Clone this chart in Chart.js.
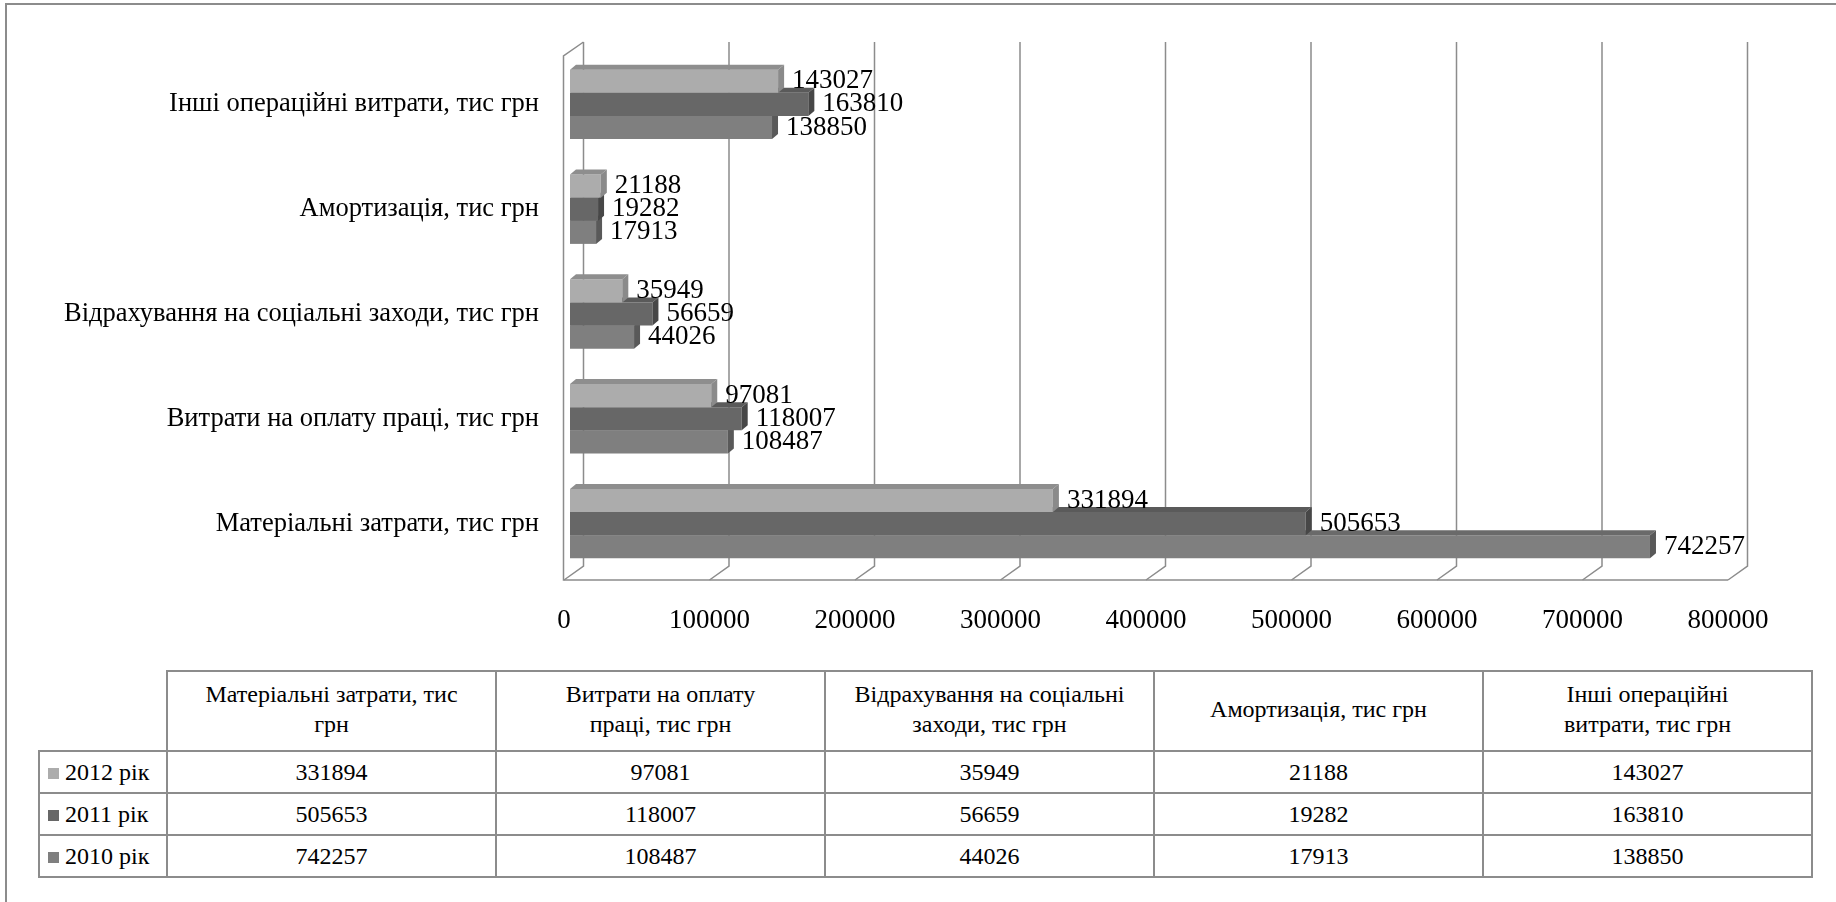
<!DOCTYPE html>
<html>
<head>
<meta charset="utf-8">
<script src="https://cdn.jsdelivr.net/npm/chart.js@4.4.0/dist/chart.umd.min.js"></script>
<style>
  body { margin: 0; background: #fff; width: 1836px; height: 902px; overflow: hidden; position: relative;
         font-family: "Liberation Serif", serif; }
  #frame { position: absolute; left: 5px; top: 3px; width: 1900px; height: 1000px; border: 2px solid #8c8c8c; }
  #wrap { position: absolute; left: 0; top: 0; width: 1836px; height: 650px; }
  #tbl { position: absolute; left: 38px; top: 670px; border-collapse: collapse; table-layout: fixed; color: #000; }
  #tbl td { border: 2px solid #8c8c8c; text-align: center; padding: 0; white-space: pre-line; line-height: 28px;
            font-family: "Liberation Serif", serif; font-size: 24px; }
  #tbl tr.head td { line-height: 30px; padding-bottom: 4px; }
  #tbl td.blank { border-top: none; border-left: none; }
  #tbl td.leg { text-align: left; padding-left: 8px; white-space: nowrap; }
  #tbl .sw { display: inline-block; width: 11px; height: 11px; margin-right: 6px; vertical-align: 1px; }
</style>
</head>
<body>
<div id="frame"></div>
<div id="wrap"><canvas id="chart" width="1836" height="650"></canvas></div>
<table id="tbl"></table>
<script>
// Categories (order of the data table; the chart shows them bottom to top)
const categories = [
    'Матеріальні затрати, тис грн',
    'Витрати на оплату праці, тис грн',
    'Відрахування на соціальні заходи, тис грн',
    'Амортизація, тис грн',
    'Інші операційні витрати, тис грн'
];
const headerLabels = [
    'Матеріальні затрати, тис\nгрн',
    'Витрати на оплату\nпраці, тис грн',
    'Відрахування на соціальні\nзаходи, тис грн',
    'Амортизація, тис грн',
    'Інші операційні\nвитрати, тис грн'
];
const seriesNames = ['2012 рік', '2011 рік', '2010 рік'];
const values2012 = [331894, 97081, 35949, 21188, 143027];
const values2011 = [505653, 118007, 56659, 19282, 163810];
const values2010 = [742257, 108487, 44026, 17913, 138850];
const xTicks = [0, 100000, 200000, 300000, 400000, 500000, 600000, 700000, 800000];

const frontColors = ['#acacac', '#676767', '#7f7f7f'];
const topColors = ['#8e8e8e', '#5a5a5a', '#6a6a6a'];
const sideColors = ['#8a8a8a', '#474747', '#595959'];
const font = '"Liberation Serif", serif';

// Back wall, floor and gridlines drawn in a fake 3D look
const wallPlugin = {
    id: 'walls',
    beforeDatasetsDraw(chart) {
        const {ctx, chartArea: a, scales: {x}} = chart;
        const top = a.top - 10, back = a.bottom - 10, front = a.bottom + 4;
        ctx.save();
        ctx.strokeStyle = '#8c8c8c';
        ctx.lineWidth = 1.5;
        xTicks.forEach(v => {
            const px = x.getPixelForValue(v);
            ctx.beginPath();
            ctx.moveTo(px + 13.5, top);
            ctx.lineTo(px + 13.5, back);
            ctx.lineTo(px - 6, front);
            ctx.stroke();
        });
        const x0 = x.getPixelForValue(0);
        const x1 = x.getPixelForValue(800000);
        ctx.beginPath();
        ctx.moveTo(x1 - 6, front);
        ctx.lineTo(x0 - 6.5, front);
        ctx.lineTo(x0 - 6.5, top + 14);
        ctx.lineTo(x0 + 13.5, top);
        ctx.stroke();
        ctx.restore();
    }
};

// Top and end faces of each bar
const barFacePlugin = {
    id: 'barFaces',
    afterDatasetDraw(chart, args) {
        const ctx = chart.ctx;
        const i = args.index;
        const dx = 6, dy = 5;
        ctx.save();
        args.meta.data.forEach(el => {
            const {x, y, base, height} = el.getProps(['x', 'y', 'base', 'height'], true);
            const t = y - height / 2, b = y + height / 2;
            ctx.fillStyle = topColors[i];
            ctx.beginPath();
            ctx.moveTo(base, t);
            ctx.lineTo(x, t);
            ctx.lineTo(x + dx, t - dy);
            ctx.lineTo(base + dx, t - dy);
            ctx.closePath();
            ctx.fill();
            ctx.fillStyle = sideColors[i];
            ctx.beginPath();
            ctx.moveTo(x, t);
            ctx.lineTo(x + dx, t - dy);
            ctx.lineTo(x + dx, b - dy);
            ctx.lineTo(x, b);
            ctx.closePath();
            ctx.fill();
        });
        ctx.restore();
    }
};

// Value labels at the end of the bars
const valueLabelPlugin = {
    id: 'valueLabels',
    afterDatasetsDraw(chart) {
        const ctx = chart.ctx;
        ctx.save();
        ctx.font = '27px ' + font;
        ctx.fillStyle = '#000';
        ctx.textAlign = 'left';
        ctx.textBaseline = 'middle';
        chart.data.datasets.forEach((ds, i) => {
            chart.getDatasetMeta(i).data.forEach((el, j) => {
                ctx.fillText(String(ds.data[j]), el.x + 14, el.y);
            });
        });
        ctx.restore();
    }
};

const chart = new Chart(document.getElementById('chart').getContext('2d'), {
    type: 'bar',
    data: {
        labels: categories,
        datasets: [{
            label: seriesNames[0],
            data: values2012,
            backgroundColor: frontColors[0]
        }, {
            label: seriesNames[1],
            data: values2011,
            backgroundColor: frontColors[1]
        }, {
            label: seriesNames[2],
            data: values2010,
            backgroundColor: frontColors[2]
        }]
    },
    options: {
        indexAxis: 'y',
        responsive: false,
        animation: false,
        datasets: {
            bar: {categoryPercentage: 0.662, barPercentage: 1, borderWidth: 0}
        },
        layout: {padding: {top: 52, right: 102, left: 0, bottom: 0}},
        plugins: {
            legend: {display: false},
            tooltip: {enabled: false}
        },
        scales: {
            x: {
                min: 0,
                max: 800000,
                grid: {display: false, drawTicks: false},
                border: {display: false},
                ticks: {
                    stepSize: 100000,
                    autoSkip: false,
                    maxRotation: 0,
                    labelOffset: -6,
                    padding: 29,
                    color: '#000',
                    font: {family: font, size: 27},
                    callback: function(value) {
                        return String(value);
                    }
                },
                afterFit: function(scale) {
                    scale.height = 74;
                }
            },
            y: {
                reverse: true,
                grid: {display: false, drawTicks: false},
                border: {display: false},
                ticks: {
                    padding: 31,
                    color: '#000',
                    font: {family: font, size: 26.5}
                },
                afterFit: function(scale) {
                    scale.width = 570;
                }
            }
        }
    },
    plugins: [wallPlugin, barFacePlugin, valueLabelPlugin]
});

// Data table under the chart
const tbl = document.getElementById('tbl');
const allSeries = [values2012, values2011, values2010];
const colWidths = [127, 327, 327, 327, 327, 327];
let html = '<tr class="head" style="height:80px"><td class="blank" style="width:' + colWidths[0] + 'px"></td>';
headerLabels.forEach((h, i) => {
    html += '<td style="width:' + colWidths[i + 1] + 'px">' + h + '</td>';
});
html += '</tr>';
allSeries.forEach((vals, s) => {
    html += '<tr style="height:42px"><td class="leg"><span class="sw" style="background:' + frontColors[s] + '"></span>' + seriesNames[s] + '</td>';
    vals.forEach(v => { html += '<td>' + v + '</td>'; });
    html += '</tr>';
});
tbl.innerHTML = html;
</script>
</body>
</html>
